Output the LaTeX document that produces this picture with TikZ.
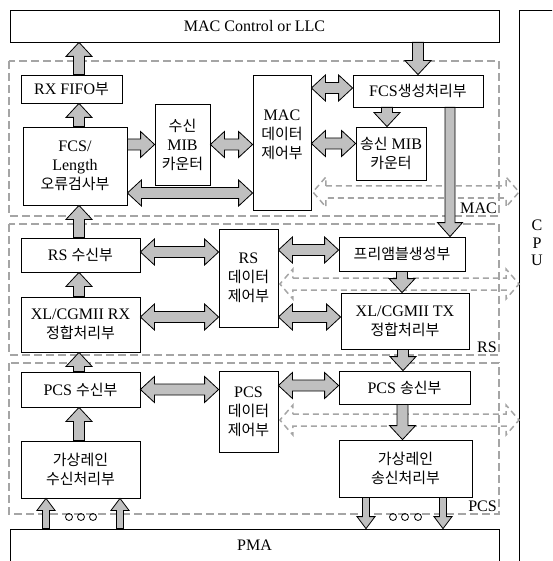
\documentclass[tikz,border=0pt]{standalone}
\usepackage{fontspec}
\setmainfont{Liberation Serif}[Scale=1.07]
\newfontfamily\krfont{Noto Sans CJK KR}
\newcommand\kor[1]{{\krfont #1}}
\usepackage{xcolor}
\usepackage{tikz}
\usetikzlibrary{calc,positioning}
\definecolor{blockgray}{RGB}{192,192,192}
\definecolor{dashgray}{RGB}{165,165,165}

\tikzset{
  bshaft/.store in=\bshaft, bhead/.store in=\bhead, blen/.store in=\blen,
  bshaft=5.5pt, bhead=13pt, blen=14pt,
  box/.style={draw, fill=white, line width=0.8pt, align=center, inner sep=1pt},
  region/.style={draw=dashgray, line width=1.8pt, dash pattern=on 8pt off 4pt},
  reglabel/.style={anchor=south east, inner sep=1pt},
  oneway/.style={fill=blockgray, draw=black, line width=0.8pt,
    to path={($(\tikztostart)!\bshaft!90:(\tikztotarget)$)
      -- ($(\tikztotarget)!\blen!(\tikztostart)!\bshaft!-90:(\tikztostart)$)
      -- ($(\tikztotarget)!\blen!(\tikztostart)!\bhead!-90:(\tikztostart)$)
      -- (\tikztotarget)
      -- ($(\tikztotarget)!\blen!(\tikztostart)!\bhead!90:(\tikztostart)$)
      -- ($(\tikztotarget)!\blen!(\tikztostart)!\bshaft!90:(\tikztostart)$)
      -- ($(\tikztostart)!\bshaft!-90:(\tikztotarget)$) -- cycle}},
  twoway/.style={fill=blockgray, draw=black, line width=0.8pt,
    to path={($(\tikztostart)!\blen!(\tikztotarget)!\bshaft!90:(\tikztotarget)$)
      -- ($(\tikztotarget)!\blen!(\tikztostart)!\bshaft!-90:(\tikztostart)$)
      -- ($(\tikztotarget)!\blen!(\tikztostart)!\bhead!-90:(\tikztostart)$)
      -- (\tikztotarget)
      -- ($(\tikztotarget)!\blen!(\tikztostart)!\bhead!90:(\tikztostart)$)
      -- ($(\tikztotarget)!\blen!(\tikztostart)!\bshaft!90:(\tikztostart)$)
      -- ($(\tikztostart)!\blen!(\tikztotarget)!\bshaft!-90:(\tikztotarget)$)
      -- ($(\tikztostart)!\blen!(\tikztotarget)!\bhead!-90:(\tikztotarget)$)
      -- (\tikztostart)
      -- ($(\tikztostart)!\blen!(\tikztotarget)!\bhead!90:(\tikztotarget)$) -- cycle}},
  cpulink/.style={twoway, fill=none, draw=dashgray, line width=1.5pt,
    dash pattern=on 6pt off 4pt, bshaft=6pt, bhead=15pt, blen=13pt},
  lanearrow/.style={oneway, bshaft=3.5pt, bhead=9pt, blen=12pt},
}

\begin{document}
\begin{tikzpicture}[x=1pt,y=-1pt,font=\fontsize{15}{19}\selectfont]
\useasboundingbox (0,0) rectangle (552,561);
\clip (0,0) rectangle (552,561);

\draw[region] (9,61) rectangle (499,216);
\draw[region] (9,224) rectangle (499,355);
\draw[region] (9,363) rectangle (499,514);
\node[reglabel] (maclabel) at (498,215) {MAC};
\node[reglabel] (rslabel) at (498,354) {RS};
\node[reglabel] (pcslabel) at (498,513) {PCS};

\node[box, minimum width=489pt, minimum height=32pt] (llc) at (254.5,26) {MAC Control or LLC};
\node[box, minimum width=40pt, minimum height=570pt, anchor=north west] (cpu) at (519,10) {};
\node[align=center, font=\fontsize{15}{17.5}\selectfont] (cpulabel) at (537,243) {C\\P\\U};
\node[box, minimum width=489pt, minimum height=33pt] (pma) at (254.5,545.5) {PMA};

% MAC
\node[box, minimum width=101pt, minimum height=28pt] (rxfifo) at (71.5,89) {RX FIFO\kor{부}};
\node[box, minimum width=104pt, minimum height=78pt] (fcschk) at (75,166) {FCS/\\Length\\\kor{오류검사부}};
\node[box, minimum width=55pt, minimum height=81pt] (rxmib) at (182.5,144.5) {\kor{수신}\\MIB\\\kor{카운터}};
\node[box, minimum width=58pt, minimum height=135pt] (macdata) at (282,142.5) {MAC\\\kor{데이터}\\\kor{제어부}\\[-2pt]\mbox{}};
\node[box, minimum width=130pt, minimum height=32pt] (fcsgen) at (418,91) {FCS\kor{생성처리부}};
\node[box, minimum width=70pt, minimum height=53pt] (txmib) at (391,153.5) {\kor{송신} MIB\\\kor{카운터}};

% RS
\node[box, minimum width=119pt, minimum height=34pt] (rsrx) at (80.5,255) {RS \kor{수신부}};
\node[box, minimum width=119pt, minimum height=55pt] (xlrx) at (80.5,324.5) {XL/CGMII RX\\\kor{정합처리부}};
\node[box, minimum width=59pt, minimum height=98pt] (rsdata) at (248.5,278) {RS\\\kor{데이터}\\\kor{제어부}};
\node[box, minimum width=126pt, minimum height=34pt] (prea) at (402,254) {\kor{프리앰블생성부}};
\node[box, minimum width=128pt, minimum height=56pt] (xltx) at (405,321) {XL/CGMII TX\\\kor{정합처리부}};

% PCS
\node[box, minimum width=119pt, minimum height=35pt] (pcsrx) at (80.5,389.5) {PCS \kor{수신부}};
\node[box, minimum width=59pt, minimum height=81pt] (pcsdata) at (248.5,411.5) {PCS\\\kor{데이터}\\\kor{제어부}};
\node[box, minimum width=131pt, minimum height=33pt] (pcstx) at (404.5,387.5) {PCS \kor{송신부}};
\node[box, minimum width=119pt, minimum height=57pt] (vlrx) at (80.5,469.5) {\kor{가상레인}\\\kor{수신처리부}};
\node[box, minimum width=133pt, minimum height=57pt] (vltx) at (405.5,468.5) {\kor{가상레인}\\\kor{송신처리부}};

\coordinate (lcol) at (79,0);
\coordinate (txcol) at (450,0);

\foreach \blk/\dy in {macdata/-49.5,rsdata/-6,pcsdata/-8.5}
  \draw[cpulink] ([yshift=\dy pt, xshift=1.5pt]\blk.east) to ([yshift=\dy pt]\blk.east -| cpu.west);

\foreach \lo/\hi in {rxfifo/llc,fcschk/rxfifo,rsrx/fcschk,xlrx/rsrx,pcsrx/xlrx,vlrx/pcsrx}
  \draw[oneway] (\lo.north -| lcol) to (\hi.south -| lcol);

\draw[oneway] (rxmib.west -| fcschk.east) to (rxmib.west);
\draw[twoway] (rxmib.east) to (rxmib.east -| macdata.west);
\draw[twoway] ([yshift=-27pt]fcschk.east) to ([yshift=-27pt]fcschk.east -| macdata.west);
\draw[twoway] ([yshift=3pt]fcsgen.west -| macdata.east) to ([yshift=3pt]fcsgen.west);
\draw[twoway] ([yshift=10pt]txmib.west -| macdata.east) to ([yshift=10pt]txmib.west);
\draw[oneway] (llc.south -| fcsgen.north) to (fcsgen.north);
\draw[oneway] ([xshift=-4pt]fcsgen.south -| txmib.north) to ([xshift=-4pt]txmib.north);
\draw[oneway, bshaft=5pt, bhead=12.5pt] (fcsgen.south -| txcol) to (prea.north -| txcol);

\draw[twoway] ([yshift=3pt]rsrx.east) to ([yshift=3pt]rsrx.east -| rsdata.west);
\draw[twoway] ([yshift=7.5pt]xlrx.east) to ([yshift=7.5pt]xlrx.east -| rsdata.west);
\draw[twoway] ([yshift=4pt]prea.west -| rsdata.east) to ([yshift=4pt]prea.west);
\draw[twoway] ([yshift=4pt]xltx.west -| rsdata.east) to ([yshift=4pt]xltx.west);
\draw[oneway] (prea.south) to (prea.south |- xltx.north);
\draw[oneway] ([xshift=-2pt]xltx.south) to ([xshift=-2pt]xltx.south |- pcstx.north);

\draw[twoway] (pcsrx.east) to (pcsrx.east -| pcsdata.west);
\draw[twoway] ([yshift=2pt]pcstx.west -| pcsdata.east) to ([yshift=2pt]pcstx.west);
\draw[oneway] ([xshift=-2pt]pcstx.south) to ([xshift=-2pt]pcstx.south |- vltx.north);

\foreach \px in {46,120}
  \draw[lanearrow] (pma.north -| \px,0) to (vlrx.south -| \px,0);
\foreach \px in {366,443}
  \draw[lanearrow] (vltx.south -| \px,0) to (pma.north -| \px,0);
\foreach \cx in {69,81,93,393,405,418}
  \draw[line width=0.8pt] (\cx,517) circle[radius=3.5pt];
\end{tikzpicture}
\end{document}
